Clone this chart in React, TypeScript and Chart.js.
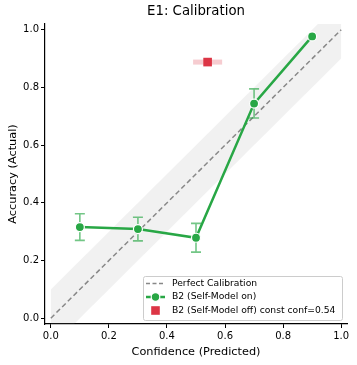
import React, { useEffect, useRef } from "react";
import { Chart, registerables } from "chart.js";

Chart.register(...registerables);

// ---- data ----
const confidence = [0.1, 0.3, 0.5, 0.7, 0.9];
const accuracy = [0.316, 0.309, 0.279, 0.744, 0.977];
const errLow = [0.27, 0.268, 0.229, 0.694, 0.977];
const errHigh = [0.362, 0.35, 0.329, 0.795, 0.977];
const offConf = [0.54];
const offAcc = [0.888];
const offConfLow = [0.49];
const offConfHigh = [0.59];
const diagX = [0, 1];
const diagY = [0, 1];
const bandUpperY = [0.1, 1.1];
const bandLowerY = [-0.1, 0.9];
const tickValues = [0, 0.2, 0.4, 0.6, 0.8, 1.0];
const axisMin = -0.02;
const axisMax = 1.02;
const titleText = "E1: Calibration";
const xTitle = "Confidence (Predicted)";
const yTitle = "Accuracy (Actual)";
const legendLabels = [
  "Perfect Calibration",
  "B2 (Self-Model on)",
  "B2 (Self-Model off) const conf=0.54",
];

const GREEN = "#28a745";
const RED = "#dc3545";
const FONT = "'DejaVu Sans', sans-serif";

const decorPlugin = {
  id: "decor",
  afterDatasetDraw(chart: any, args: any) {
    if (args.index !== 2) return;
    const { ctx, scales } = chart;
    const xs = scales.x;
    const ys = scales.y;
    ctx.save();
    // green vertical error bars
    ctx.strokeStyle = "rgba(40,167,69,0.65)";
    ctx.lineWidth = 1.6;
    for (let i = 0; i < confidence.length; i++) {
      if (errHigh[i] - errLow[i] < 0.005) continue;
      const px = xs.getPixelForValue(confidence[i]);
      const y1 = ys.getPixelForValue(errLow[i]);
      const y2 = ys.getPixelForValue(errHigh[i]);
      ctx.beginPath();
      ctx.moveTo(px, y1);
      ctx.lineTo(px, y2);
      ctx.moveTo(px - 5, y1);
      ctx.lineTo(px + 5, y1);
      ctx.moveTo(px - 5, y2);
      ctx.lineTo(px + 5, y2);
      ctx.stroke();
    }
    // red horizontal error bar
    for (let i = 0; i < offConf.length; i++) {
      const py = ys.getPixelForValue(offAcc[i]);
      const x1 = xs.getPixelForValue(offConfLow[i]);
      const x2 = xs.getPixelForValue(offConfHigh[i]);
      ctx.strokeStyle = "rgba(220,53,69,0.25)";
      ctx.lineWidth = 5;
      ctx.beginPath();
      ctx.moveTo(x1, py);
      ctx.lineTo(x2, py);
      ctx.stroke();
    }
    ctx.restore();
  },
  afterDraw(chart: any) {
    const { ctx, chartArea } = chart;
    ctx.save();
    ctx.fillStyle = "#000";
    // title
    ctx.font = `13.3px ${FONT}`;
    ctx.textAlign = "center";
    ctx.textBaseline = "middle";
    ctx.fillText(titleText, (chartArea.left + chartArea.right) / 2, 12);
    // axis titles
    ctx.font = `11.3px ${FONT}`;
    ctx.fillText(xTitle, (chartArea.left + chartArea.right) / 2, 352);
    ctx.save();
    ctx.translate(13, (chartArea.top + chartArea.bottom) / 2);
    ctx.rotate(-Math.PI / 2);
    ctx.fillText(yTitle, 0, 0);
    ctx.restore();

    // legend
    const bx = 143, by = 276, bw = 199, bh = 44;
    ctx.fillStyle = "rgba(255,255,255,0.8)";
    ctx.strokeStyle = "#cccccc";
    ctx.lineWidth = 1;
    ctx.beginPath();
    (ctx as any).roundRect(bx + 0.5, by + 0.5, bw, bh, 2);
    ctx.fill();
    ctx.stroke();
    const rows = [283.5, 297, 310.5];
    const hx1 = 146, hx2 = 165, hc = 155.5;
    // row 1 dashed gray
    ctx.strokeStyle = "#888888";
    ctx.lineWidth = 1.5;
    ctx.setLineDash([4, 2.5]);
    ctx.beginPath();
    ctx.moveTo(hx1, rows[0]);
    ctx.lineTo(hx2, rows[0]);
    ctx.stroke();
    ctx.setLineDash([]);
    // row 2 green line + circle
    ctx.strokeStyle = GREEN;
    ctx.lineWidth = 2.5;
    ctx.beginPath();
    ctx.moveTo(hx1, rows[1]);
    ctx.lineTo(hx2, rows[1]);
    ctx.stroke();
    ctx.fillStyle = GREEN;
    ctx.strokeStyle = "#ffffff";
    ctx.lineWidth = 1.2;
    ctx.beginPath();
    ctx.arc(hc, rows[1], 4.3, 0, Math.PI * 2);
    ctx.fill();
    ctx.stroke();
    // row 3 red square
    ctx.fillStyle = RED;
    ctx.fillRect(hc - 4.3, rows[2] - 4.3, 8.6, 8.6);
    // text
    ctx.fillStyle = "#000";
    ctx.font = `9.2px ${FONT}`;
    ctx.textAlign = "left";
    ctx.textBaseline = "middle";
    legendLabels.forEach((t, i) => ctx.fillText(t, 172, rows[i]));
    ctx.restore();
  },
};

export default function App() {
  const ref = useRef<HTMLCanvasElement | null>(null);
  useEffect(() => {
    if (!ref.current) return;
    const chart = new Chart(ref.current, {
      type: "scatter",
      data: {
        datasets: [
          {
            label: legendLabels[2],
            data: offConf.map((x, i) => ({ x, y: offAcc[i] })),
            pointStyle: "rect",
            pointRadius: 6.1,
            backgroundColor: RED,
            borderColor: RED,
            borderWidth: 0,
          },
          {
            label: legendLabels[1],
            data: confidence.map((x, i) => ({ x, y: accuracy[i] })),
            showLine: true,
            borderColor: GREEN,
            borderWidth: 2.5,
            pointRadius: 4.5,
            pointBackgroundColor: GREEN,
            pointBorderColor: "#ffffff",
            pointBorderWidth: 1.2,
          },
          {
            label: legendLabels[0],
            data: diagX.map((x, i) => ({ x, y: diagY[i] })),
            showLine: true,
            borderColor: "#888888",
            borderWidth: 1.5,
            borderDash: [5, 3],
            pointRadius: 0,
          },
          {
            label: "band-upper",
            data: diagX.map((x, i) => ({ x, y: bandUpperY[i] })),
            showLine: true,
            borderWidth: 0,
            borderColor: "rgba(0,0,0,0)",
            pointRadius: 0,
            fill: "+1",
            backgroundColor: "rgba(150,150,150,0.13)",
          },
          {
            label: "band-lower",
            data: diagX.map((x, i) => ({ x, y: bandLowerY[i] })),
            showLine: true,
            borderWidth: 0,
            borderColor: "rgba(0,0,0,0)",
            pointRadius: 0,
          },
        ],
      },
      options: {
        responsive: false,
        animation: false,
        layout: { padding: { left: 0, top: 24, right: 10, bottom: 0 } },
        plugins: {
          legend: { display: false },
          title: { display: false },
          tooltip: { enabled: false },
        },
        scales: {
          x: {
            type: "linear",
            min: axisMin,
            max: axisMax,
            afterFit: (s: any) => {
              s.height = 41;
            },
            afterBuildTicks: (s: any) => {
              s.ticks = tickValues.map((v) => ({ value: v }));
            },
            grid: {
              display: true,
              drawOnChartArea: false,
              drawTicks: true,
              tickLength: 4,
              color: "#000",
              lineWidth: 1,
            },
            border: { display: true, color: "#000", width: 1.2 },
            ticks: {
              color: "#000",
              padding: 2,
              font: { family: FONT, size: 10 },
              maxRotation: 0,
              callback: (v: any) => Number(v).toFixed(1),
            },
          },
          y: {
            type: "linear",
            min: axisMin,
            max: axisMax,
            afterFit: (s: any) => {
              s.width = 45;
            },
            afterBuildTicks: (s: any) => {
              s.ticks = tickValues.map((v) => ({ value: v }));
            },
            grid: {
              display: true,
              drawOnChartArea: false,
              drawTicks: true,
              tickLength: 4,
              color: "#000",
              lineWidth: 1,
            },
            border: { display: true, color: "#000", width: 1.2 },
            ticks: {
              color: "#000",
              padding: 2,
              font: { family: FONT, size: 10 },
              callback: (v: any) => Number(v).toFixed(1),
            },
          },
        },
      },
      plugins: [decorPlugin],
    } as any);
    return () => chart.destroy();
  }, []);
  return (
    <div style={{ position: "fixed", left: 0, top: 0, width: 357, height: 365, background: "#fff" }}>
      <canvas ref={ref} width={357} height={365} style={{ display: "block" }} />
    </div>
  );
}
